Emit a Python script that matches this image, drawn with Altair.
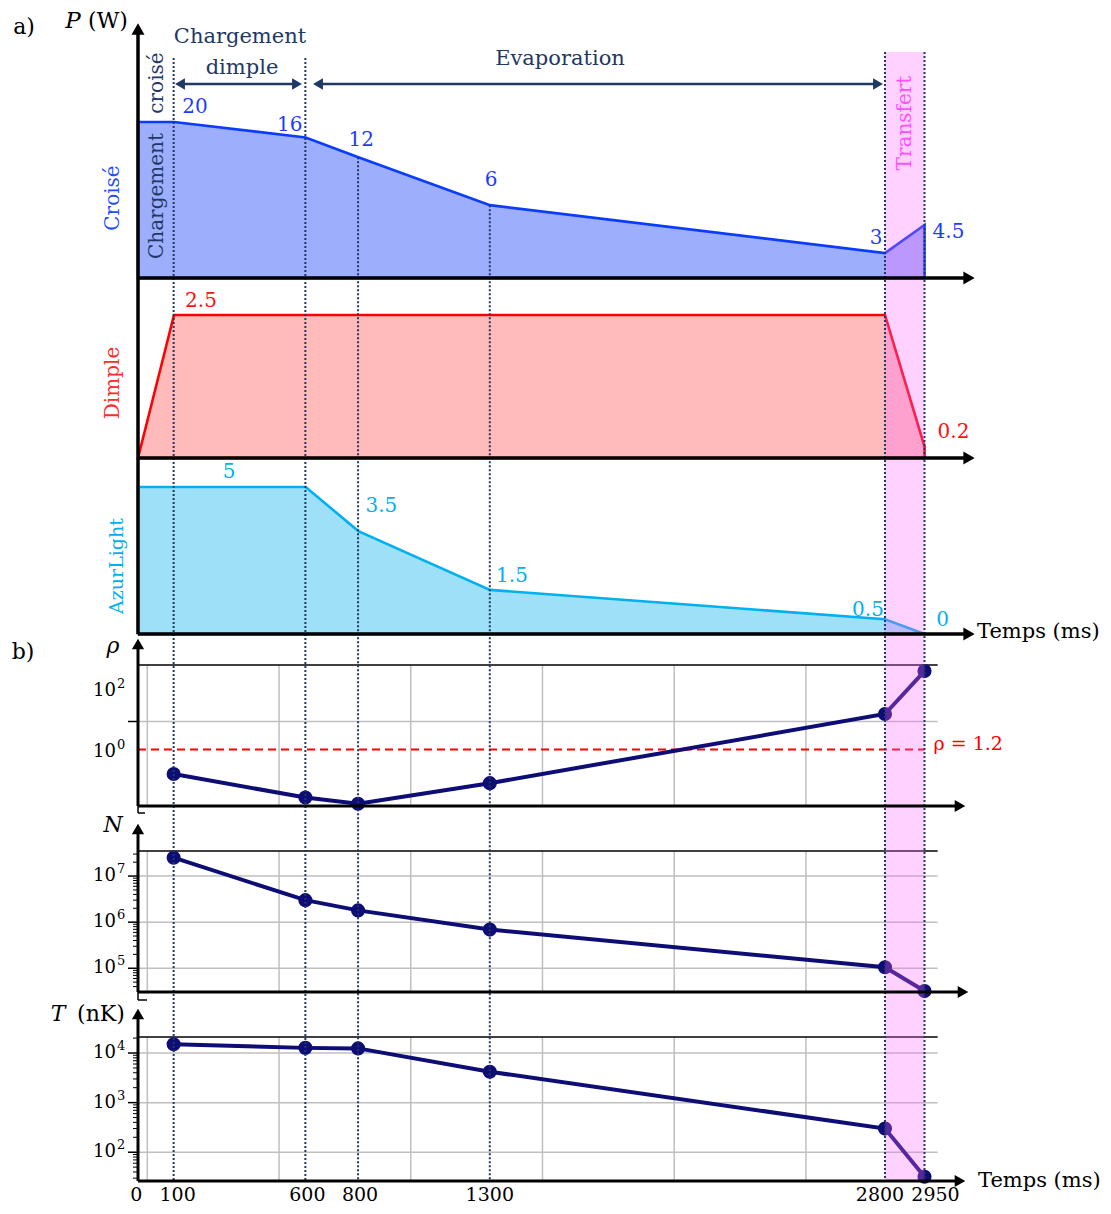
import altair as alt
import pandas as pd

FONT = "DejaVu Serif"

# ------------------------------------------------------------------ data
t_power = [0, 100, 600, 800, 1300, 2800, 2950]
p_croise = [20, 20, 16, 12, 6, 3, 4.5]
t_dimple = [0, 100, 2800, 2950]
p_dimple = [0, 2.5, 2.5, 0.2]
p_azur = [5, 5, 5, 3.5, 1.5, 0.5, 0]

t_meas = [100, 600, 800, 1300, 2800, 2950]
rho = [0.19, 0.032, 0.020, 0.095, 17.6, 450]
atoms = [2.5e7, 3.0e6, 1.8e6, 6.9e5, 1.05e5, 3.2e4]
temp = [1.5e4, 1.27e4, 1.24e4, 4.2e3, 300, 32]
rho_c = 1.2

x_ticks = [0, 100, 600, 800, 1300, 2800, 2950]
x_tick_labels = ["0", "100", "600", "800", "1300", "2800", "2950"]
grid_t = [0, 500, 1000, 1500, 2000, 2500]
t_transfer = [2800, 2950]

rho_ticks = [100, 1]
rho_exp = ["2", "0"]
rho_grid = [10]
n_ticks = [1e7, 1e6, 1e5]
n_exp = ["7", "6", "5"]
t_ticks = [1e4, 1e3, 1e2]
t_exp = ["4", "3", "2"]

# ------------------------------------------------------------------ styles
NAVY = "#1F3864"
PT = "#0D0D75"
C_FILL, C_LINE, C_TXT = "#9DAEFC", "#0A3CFF", "#1E3CFF"
D_FILL, D_LINE, D_TXT = "#FFBBBB", "#FF0000", "#FF1010"
A_FILL, A_LINE, A_TXT = "#9EE0F7", "#00B0F0", "#00B0F0"
GRID = "#BFBFBF"

T_END = 3000  # right edge of the measurement frames

# scales (explicit pixel ranges inside the single layered view)
XA = alt.Scale(domain=[0, 100, 2950], range=[130, 166, 916.5], nice=False, zero=False)
XB = alt.Scale(domain=[0, 2950], range=[139.3, 916.5], nice=False, zero=False)

P_MIN = 2.09
Y_CROISE = alt.Scale(type="log", domain=[P_MIN, 20], range=[270, 114], nice=False)
Y_DIMPLE = alt.Scale(domain=[0, 2.5], range=[450, 307], nice=False, zero=False)
Y_AZUR = alt.Scale(domain=[0, 5], range=[626, 479], nice=False, zero=False)

RHO_LO, RHO_HI = 0.01829, 712
N_LO, N_HI = 3.055e4, 3.497e7
T_LO, T_HI = 26.3, 2.104e4
Y_RHO = alt.Scale(type="log", domain=[RHO_LO, RHO_HI], range=[797, 657], nice=False)
Y_N = alt.Scale(type="log", domain=[N_LO, N_HI], range=[984, 843], nice=False)
Y_T = alt.Scale(type="log", domain=[T_LO, T_HI], range=[1173, 1029], nice=False)


def one():
    return pd.DataFrame({"k": [0]})


def text(txt, x, y, size=20, color="black", angle=0, align="center",
         baseline="middle", style="normal"):
    return alt.Chart(one()).mark_text(
        text=txt, font=FONT, fontSize=size, color=color, angle=angle,
        align=align, baseline=baseline, fontStyle=style,
    ).encode(x=alt.value(x - 8), y=alt.value(y - 8))


def seg(x1, y1, x2, y2, color="black", width=3):
    return alt.Chart(one()).mark_rule(color=color, strokeWidth=width).encode(
        x=alt.value(x1 - 8), y=alt.value(y1 - 8),
        x2=alt.value(x2 - 8), y2=alt.value(y2 - 8))


def head(x, y, shape, size=150, color="black"):
    return alt.Chart(one()).mark_point(
        shape=shape, filled=True, size=size, color=color, opacity=1, strokeWidth=0
    ).encode(x=alt.value(x - 8), y=alt.value(y - 8))


layers = []

# ------------------------------------------------------------------ grids (panel b)
for ys, lo, hi, hv in [(Y_RHO, RHO_LO, RHO_HI, rho_grid),
                       (Y_N, N_LO, N_HI, n_ticks),
                       (Y_T, T_LO, T_HI, t_ticks)]:
    dv = pd.DataFrame({"t": grid_t, "lo": lo, "hi": hi})
    layers.append(alt.Chart(dv).mark_rule(color=GRID, strokeWidth=1.5).encode(
        x=alt.X("t:Q", scale=XB, axis=None),
        y=alt.Y("lo:Q", scale=ys, axis=None), y2="hi:Q"))
    dh = pd.DataFrame({"v": hv, "t0": 0, "t1": T_END})
    layers.append(alt.Chart(dh).mark_rule(color=GRID, strokeWidth=1.5).encode(
        x=alt.X("t0:Q", scale=XA, axis=None), x2="t1:Q",
        y=alt.Y("v:Q", scale=ys, axis=None)))
    dt = pd.DataFrame({"v": [hi], "t0": 0, "t1": T_END})
    layers.append(alt.Chart(dt).mark_rule(color="black", strokeWidth=1.6).encode(
        x=alt.X("t0:Q", scale=XA, axis=None), x2="t1:Q",
        y=alt.Y("v:Q", scale=ys, axis=None)))

# ------------------------------------------------------------------ power areas (panel a)
dc = pd.DataFrame({"t": t_power, "p": p_croise})
layers.append(alt.Chart(dc).mark_area(fill=C_FILL, stroke=C_LINE, strokeWidth=2.6, opacity=1).encode(
    x=alt.X("t:Q", scale=XA, axis=None),
    y=alt.Y("p:Q", scale=Y_CROISE, axis=None),
    y2=alt.datum(P_MIN)))
dd = pd.DataFrame({"t": t_dimple, "p": p_dimple})
layers.append(alt.Chart(dd).mark_area(fill=D_FILL, stroke=D_LINE, strokeWidth=2.6, opacity=1).encode(
    x=alt.X("t:Q", scale=XA, axis=None),
    y=alt.Y("p:Q", scale=Y_DIMPLE, axis=None),
    y2=alt.datum(0)))
da = pd.DataFrame({"t": t_power, "p": p_azur})
layers.append(alt.Chart(da).mark_area(fill=A_FILL, stroke=A_LINE, strokeWidth=2.6, opacity=1).encode(
    x=alt.X("t:Q", scale=XA, axis=None),
    y=alt.Y("p:Q", scale=Y_AZUR, axis=None),
    y2=alt.datum(0)))

# ------------------------------------------------------------------ threshold rho = 1.2
dth = pd.DataFrame({"t0": [0], "t1": [2950], "v": [rho_c]})
layers.append(alt.Chart(dth).mark_rule(color="#FF0000", strokeWidth=2, strokeDash=[8, 5]).encode(
    x=alt.X("t0:Q", scale=XA, axis=None), x2="t1:Q",
    y=alt.Y("v:Q", scale=Y_RHO, axis=None)))

# ------------------------------------------------------------------ measured series (panel b)
for vals, ys in [(rho, Y_RHO), (atoms, Y_N), (temp, Y_T)]:
    dm = pd.DataFrame({"t": t_meas, "v": vals})
    base = alt.Chart(dm).encode(x=alt.X("t:Q", scale=XB, axis=None),
                                y=alt.Y("v:Q", scale=ys, axis=None))
    layers.append(base.mark_line(color=PT, strokeWidth=4))
    layers.append(base.mark_circle(size=200, color=PT, opacity=1))

# ------------------------------------------------------------------ transfer band
db = pd.DataFrame({"a": [t_transfer[0]], "b": [t_transfer[1]]})
layers.append(alt.Chart(db).mark_rect(color="#FF66FF", opacity=0.3).encode(
    x=alt.X("a:Q", scale=XB, axis=None), x2="b:Q",
    y=alt.value(44), y2=alt.value(1173)))

# ------------------------------------------------------------------ dotted phase lines
dot = dict(color=NAVY, strokeWidth=2, strokeDash=[2, 2])
layers.append(alt.Chart(pd.DataFrame({"t": [100, 600]})).mark_rule(**dot).encode(
    x=alt.X("t:Q", scale=XB, axis=None), y=alt.value(50), y2=alt.value(1173)))
layers.append(alt.Chart(pd.DataFrame({"t": [800, 1300], "p": [12, 6]})).mark_rule(**dot).encode(
    x=alt.X("t:Q", scale=XB, axis=None),
    y=alt.Y("p:Q", scale=Y_CROISE, axis=None), y2=alt.value(1173)))
layers.append(alt.Chart(pd.DataFrame({"t": t_transfer})).mark_rule(**dot).encode(
    x=alt.X("t:Q", scale=XB, axis=None), y=alt.value(44), y2=alt.value(1173)))

# ------------------------------------------------------------------ axes
layers += [
    seg(138, 33, 138, 634, width=3.5), head(138, 29, "triangle-up", 170),
    seg(138, 278, 964, 278, width=3.5), head(969, 278, "triangle-right", 170),
    seg(138, 458, 964, 458, width=3.5), head(969, 458, "triangle-right", 170),
    seg(138, 634, 964, 634, width=3.5), head(969, 634, "triangle-right", 170),
    seg(138, 648, 138, 806, width=3), head(138, 644, "triangle-up", 150),
    seg(138, 832, 138, 992, width=3), head(138, 829, "triangle-up", 150),
    seg(138, 1018, 138, 1181, width=3), head(138, 1014, "triangle-up", 150),
    seg(138, 806, 955, 806, width=3), head(960, 806, "triangle-right", 150),
    seg(138, 992, 958, 992, width=3), head(963, 992, "triangle-right", 150),
    seg(138, 1181, 955, 1181, width=3), head(960, 1181, "triangle-right", 150),
    # small axis-break marks
    seg(138, 806, 138, 813, width=1.5), seg(138, 813, 145, 813, width=1.5),
    seg(138, 992, 138, 1000, width=1.5), seg(138, 1000, 147, 1000, width=1.5),
]

# major / minor ticks on the log axes
for vals, ys in [(rho_grid, Y_RHO), (n_ticks, Y_N), (t_ticks, Y_T)]:
    layers.append(alt.Chart(pd.DataFrame({"v": vals})).mark_rule(color="black", strokeWidth=1.5).encode(
        x=alt.value(120), x2=alt.value(130), y=alt.Y("v:Q", scale=ys, axis=None)))
for lo, hi, ys in [(N_LO, N_HI, Y_N), (T_LO, T_HI, Y_T)]:
    minors = [k * 10 ** e for e in range(1, 8) for k in range(2, 10) if lo < k * 10 ** e < hi]
    layers.append(alt.Chart(pd.DataFrame({"v": minors})).mark_rule(color="black", strokeWidth=1).encode(
        x=alt.value(125), x2=alt.value(130), y=alt.Y("v:Q", scale=ys, axis=None)))

# tick labels on the log axes: "10" with a raised exponent
for vals, exps, ys in [(rho_ticks, rho_exp, Y_RHO),
                       (n_ticks, n_exp, Y_N),
                       (t_ticks, t_exp, Y_T)]:
    dl = pd.DataFrame({"v": vals, "e": exps, "b": "10"})
    layers.append(alt.Chart(dl).mark_text(
        font=FONT, fontSize=18, align="right", baseline="middle", color="black").encode(
        x=alt.value(108), y=alt.Y("v:Q", scale=ys, axis=None), text="b:N"))
    layers.append(alt.Chart(dl).mark_text(
        font=FONT, fontSize=13, align="left", baseline="middle", color="black", dy=-7).encode(
        x=alt.value(109), y=alt.Y("v:Q", scale=ys, axis=None), text="e:N"))

# x tick labels
x_dx = [-11, 4, 2, 2, 0, -5, 11]
for t, s, dx in zip(x_ticks, x_tick_labels, x_dx):
    layers.append(alt.Chart(pd.DataFrame({"t": [t], "s": [s]})).mark_text(
        font=FONT, fontSize=19, baseline="middle", dx=dx, color="black").encode(
        x=alt.X("t:Q", scale=XB, axis=None), y=alt.value(1187), text="s:N"))


# value labels of the power curves
def vlabels(ts, vs, offs, ys, color):
    out = []
    for t, v, (dx, dy) in zip(ts, vs, offs):
        d = pd.DataFrame({"t": [t], "v": [v], "s": [f"{v:g}"]})
        out.append(alt.Chart(d).mark_text(font=FONT, fontSize=20, color=color, dx=dx, dy=dy,
                                          baseline="middle").encode(
            x=alt.X("t:Q", scale=XA, axis=None), y=alt.Y("v:Q", scale=ys, axis=None), text="s:N"))
    return out


layers += vlabels(t_power[1:], p_croise[1:],
                  [(21, -15), (-16, -12), (3, -17), (1, -25), (-9, -15), (24, 7)], Y_CROISE, C_TXT)
layers += vlabels([t_dimple[1], t_dimple[3]], [p_dimple[1], p_dimple[3]],
                  [(27, -14), (29, -15)], Y_DIMPLE, D_TXT)
layers += vlabels([100, 800, 1300, 2800, 2950], [p_azur[1], p_azur[3], p_azur[4], p_azur[5], p_azur[6]],
                  [(55, -15), (23, -25), (22, -14), (-17, -9), (18, -14)], Y_AZUR, A_TXT)

# threshold label
layers.append(alt.Chart(pd.DataFrame({"t": [2950], "v": [rho_c]})).mark_text(
    font=FONT, fontSize=19, color="#FF0000", align="left", baseline="middle", dx=9, dy=-6,
    text="ρ = 1.2").encode(x=alt.X("t:Q", scale=XB, axis=None), y=alt.Y("v:Q", scale=Y_RHO, axis=None)))

# ------------------------------------------------------------------ annotations
layers += [
    text("a)", 24, 27, size=22),
    text("b)", 23, 652, size=22),
    text("P", 73, 21, size=23, style="italic"),
    text("(W)", 108, 21, size=22),
    text("Chargement", 240, 37, size=21, color=NAVY),
    text("dimple", 242, 68, size=21, color=NAVY),
    text("Evaporation", 560, 59, size=21, color=NAVY),
    seg(184, 84, 293, 84, color=NAVY, width=2.5),
    head(180, 84, "triangle-left", 130, NAVY), head(297, 84, "triangle-right", 130, NAVY),
    seg(322, 84, 874, 84, color=NAVY, width=2.5),
    head(318, 84, "triangle-left", 130, NAVY), head(878, 84, "triangle-right", 130, NAVY),
    text("croisé", 157, 83, size=20, color=NAVY, angle=270),
    text("Chargement", 157, 196, size=20, color=NAVY, angle=270),
    text("Transfert", 905, 123, size=20, color="#FF50FF", angle=270),
    text("Croisé", 113, 198, size=20, color="#1F4EFF", angle=270),
    text("Dimple", 113, 383, size=20, color="#FF2A2A", angle=270),
    text("AzurLight", 117, 566, size=19, color=A_TXT, angle=270),
    text("Temps (ms)", 977, 632, size=21, align="left"),
    text("Temps (ms)", 978, 1181, size=21, align="left"),
    text("ρ", 113, 646, size=22, style="italic"),
    text("N", 113, 825, size=22, style="italic"),
    text("T", 58, 1014, size=22, style="italic"),
    text("(nK)", 101, 1014, size=22),
]

chart = alt.layer(*layers).resolve_scale(x="independent", y="independent").properties(
    width=1095, height=1198, padding=0,
    autosize=alt.AutoSizeParams(type="none"),
).configure_view(stroke=None)

chart.save("out.html", embed_options={"renderer": "svg", "actions": False})
